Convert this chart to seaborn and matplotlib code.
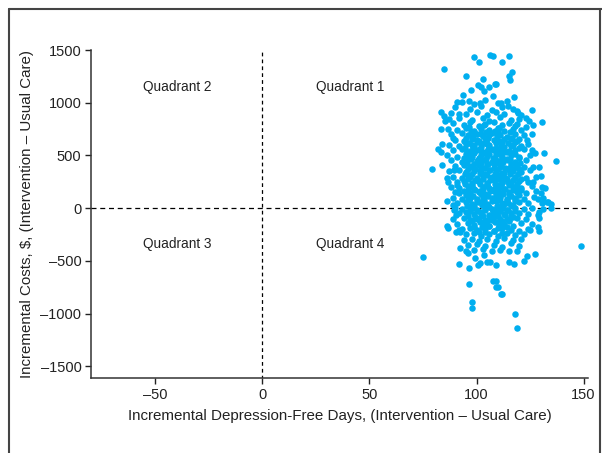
import pandas as pd
import matplotlib.pyplot as plt
import seaborn as sns
from matplotlib.lines import Line2D

# bootstrap replicates: (incremental days, incremental cost $)
outlier_pts = [
    (98.6, 1433), (101, 1385), (106.5, 1452), (107.5, 1440), (85, 1319),
    (95.3, 1253), (102.8, 1224), (100.5, 1167), (101.9, 1148), (108.4, 1177),
    (97.2, 1120), (93.5, 1072), (103.3, 1110), (106, 1148), (91, 1006),
    (96.3, 1016), (101.4, 996), (107.5, 1063), (83.6, 911), (85, 873),
    (85.5, 826), (83.6, 750), (86.9, 750), (91.6, 892), (88.8, 664),
    (115, 1442), (112, 1385), (116.4, 1290), (115, 1253), (115.4, 1215),
    (108.9, 1177), (117.3, 1053), (125.7, 930), (122.9, 854), (124.3, 826),
    (126.6, 788), (130.8, 816), (118.7, 920), (119.6, 901), (114.5, 968),
    (111.2, 996),
    (79.4, 370), (84.1, 408), (82.2, 560), (83.6, 531), (86.4, 285),
    (86.9, 247), (86.4, 66), (88.8, 28), (89.3, -19), (90.2, -66),
    (86, -171), (86.9, -190), (90.2, -228), (92.5, -228), (84.1, 607),
    (89.3, 360), (91, 218), (91.6, 142),
    (131.3, 522), (136.9, 446), (127.1, 522), (125.7, 550), (130.8, 199),
    (129.9, 142), (128.5, 85), (130.8, 47), (133.6, 57), (134.6, 38),
    (134.6, 0), (128.5, -66), (129.4, -95), (125.2, -209), (128.5, -180),
    (129, -218), (129, 389), (126.2, 389), (127.6, 294), (123.8, 645),
    (126.2, 247),
    (74.8, -465), (92, -531), (96.7, -569), (96.7, -721), (97.7, -892),
    (97.7, -949), (103.3, -446), (99.5, -474), (101.4, -522), (100.5, -541),
    (104.7, -512), (106.5, -512), (108.9, -541), (107.9, -692), (109.3, -750),
    (111.2, -816), (92.5, -380), (94.9, -408), (95.8, -427), (91.6, -209),
    (149, -361), (118.7, -408), (123.4, -455), (122, -503), (127.1, -436),
    (115, -512), (117.3, -531), (109.8, -750), (111.7, -816), (118.2, -1006),
    (118.7, -1139), (108.9, -692),
]

core_pts = [
    (93, 1010), (99, 985), (104, 1030), (110, 995), (114, 1015),
    (90, 955), (97, 940), (102, 965), (107, 930), (112, 960), (117, 945),
    (88, 905), (95, 890), (100, 915), (105, 880), (109, 910), (113, 895), (121, 885),
    (87, 845), (92, 860), (98, 835), (103, 855), (106, 830), (111, 865), (116, 840), (120, 850),
    (89, 805), (94, 790), (97, 815), (101, 780), (104, 800), (108, 820), (112, 785),
    (115, 805), (119, 795), (123, 770),
    (91, 745), (95, 760), (99, 735), (102, 755), (106, 740), (110, 765), (113, 730),
    (117, 750), (121, 740),
    (88, 700), (93, 715), (96, 690), (100, 705), (103, 680), (107, 710), (111, 695),
    (114, 675), (118, 705), (122, 690), (126, 705),
    (90, 650), (94, 640), (98, 660), (101, 635), (105, 655), (108, 645), (112, 625),
    (116, 660), (119, 640),
    (87, 600), (92, 590), (95, 610), (99, 585), (102, 605), (106, 595), (109, 615),
    (113, 580), (117, 600), (121, 590), (124, 610),
    (89, 550), (93, 560), (97, 540), (100, 555), (104, 535), (107, 565), (111, 545),
    (114, 530), (118, 550), (122, 560),
    (86, 500), (91, 490), (95, 510), (98, 485), (102, 505), (105, 495), (109, 515),
    (112, 480), (116, 500), (120, 490), (125, 505),
    (88, 455), (93, 440), (96, 465), (100, 445), (103, 460), (107, 435), (110, 450),
    (114, 470), (118, 440), (123, 455),
    (90, 400), (94, 410), (97, 390), (101, 405), (104, 385), (108, 415), (111, 395),
    (115, 380), (119, 405), (122, 395),
    (87, 350), (92, 360), (95, 340), (99, 355), (102, 335), (106, 365), (109, 345),
    (113, 330), (117, 355), (121, 345), (125, 360),
    (89, 300), (93, 290), (96, 310), (100, 285), (103, 305), (107, 295), (110, 315),
    (114, 280), (118, 300), (123, 290), (130, 305),
    (91, 250), (94, 260), (98, 240), (101, 255), (105, 235), (108, 265), (112, 245),
    (116, 230), (120, 255), (124, 245),
    (88, 200), (92, 190), (96, 210), (99, 185), (103, 205), (106, 195), (110, 215),
    (113, 180), (117, 200), (121, 190), (126, 210), (132, 195),
    (90, 150), (94, 160), (97, 140), (101, 155), (104, 135), (108, 165), (111, 145),
    (115, 130), (119, 155), (123, 145), (128, 160),
    (89, 100), (93, 90), (96, 110), (100, 85), (103, 105), (107, 95), (110, 115),
    (114, 80), (118, 100), (122, 90), (127, 105), (131, 95),
    (91, 50), (95, 60), (98, 40), (102, 55), (105, 35), (109, 65), (112, 45),
    (116, 30), (120, 55), (124, 45), (133, 60),
    (90, 0), (93, -10), (97, 10), (100, -15), (104, 5), (107, -5), (111, 15),
    (114, -20), (118, 0), (122, -10), (126, 5), (131, -5),
    (92, -50), (95, -40), (99, -60), (102, -45), (106, -65), (109, -35), (113, -55),
    (116, -70), (120, -45), (124, -55), (129, -40),
    (89, -100), (94, -90), (97, -110), (101, -95), (104, -115), (108, -85), (111, -105),
    (115, -120), (119, -95), (123, -105),
    (91, -150), (96, -140), (99, -160), (103, -145), (106, -165), (110, -135), (113, -155),
    (117, -170), (121, -145), (126, -155),
    (93, -200), (97, -190), (100, -210), (104, -195), (108, -215), (112, -185), (116, -205),
    (120, -220), (124, -195),
    (95, -250), (99, -240), (102, -260), (106, -245), (110, -265), (114, -235), (118, -255),
    (122, -245),
    (94, -300), (98, -290), (101, -310), (105, -295), (109, -315), (113, -285), (117, -305),
    (121, -295),
    (96, -350), (100, -340), (104, -360), (108, -345), (112, -365), (116, -335), (120, -355),
    (99, -400), (103, -390), (107, -410), (111, -395), (115, -405),
]

fill_pts = [
    (96.5, 770), (103.5, 785), (110.5, 765), (118, 780),
    (97.5, 730), (104.5, 720), (108.5, 735), (115.5, 725),
    (95, 670), (98.5, 685), (105.5, 665), (109.5, 680), (116.5, 670), (120, 660),
    (96.5, 620), (100, 630), (103.5, 615), (110.5, 635), (114.5, 620), (118, 625),
    (94.5, 575), (98.5, 570), (102, 580), (105.5, 565), (109, 575), (116, 585), (120, 570),
    (95.5, 525), (99, 520), (102.5, 530), (106, 515), (109.5, 525), (113, 535), (116.5, 520),
    (94, 475), (97.5, 470), (101, 480), (104.5, 465), (108.5, 475), (112, 485), (115.5, 470), (120, 475),
    (95.5, 425), (99, 420), (102, 430), (105.5, 415), (109, 425), (112.5, 435), (116, 420), (120.5, 425),
    (96, 375), (99.5, 370), (103, 380), (106.5, 365), (110, 375), (113.5, 385), (117, 370), (120, 375),
    (94.5, 325), (98, 320), (101.5, 330), (105, 315), (108.5, 325), (112, 335), (115.5, 320), (119.5, 325),
    (96, 275), (99.5, 270), (103, 280), (106.5, 265), (110, 275), (113.5, 285), (117, 270), (121, 275),
    (94.5, 225), (98, 220), (101.5, 230), (105, 215), (108.5, 225), (112, 235), (115, 220), (119, 225),
    (96, 175), (99.5, 170), (103, 180), (106.5, 165), (110, 175), (113.5, 185), (117, 170), (121, 175),
    (95, 125), (98.5, 120), (102, 130), (105.5, 115), (109, 125), (112.5, 135), (116, 120), (120, 125),
    (96.5, 75), (100, 70), (103.5, 80), (107, 65), (110.5, 75), (114, 85), (118, 70),
    (95.5, 25), (99, 20), (102.5, 30), (106, 15), (109.5, 25), (113, 35), (117, 20),
    (97, -25), (100.5, -30), (104, -20), (107.5, -35), (111, -25), (114.5, -15), (118, -30),
    (96, -75), (99.5, -80), (103, -70), (106.5, -85), (110, -75), (113.5, -65), (117, -80),
    (98, -125), (101.5, -130), (105, -120), (108.5, -135), (112, -125), (115, -115),
    (99, -175), (102.5, -180), (106, -170), (110, -185), (114, -175),
    (101, -225), (104, -230), (108, -220), (112, -235),
]

# densest part of the cloud
dense_pts = [
    (98, 600), (101.5, 560), (105, 610), (108, 550), (111.5, 590), (115, 545),
    (97, 500), (100.5, 460), (104, 520), (107.5, 480), (111, 510), (114.5, 455),
    (118, 515), (98, 400), (101.5, 360), (105, 420), (108, 380), (111.5, 410),
    (115, 360), (118.5, 395), (97, 300), (100.5, 260), (104, 320), (107.5, 280),
    (111, 300), (114.5, 250), (118, 290), (98, 200), (101.5, 160), (105, 220),
    (108, 180), (111.5, 200), (115, 150), (118.5, 190), (97, 100), (100.5, 60),
    (104, 120), (107.5, 80), (111, 100), (114.5, 50), (118, 90), (98.5, 0),
    (102, -40), (105.5, 20), (109, -20), (112.5, 0), (116, -45), (100, -100),
    (103.5, -150), (107, -110), (110.5, -160), (114, -100), (102, 700),
    (106, 690), (110, 720), (113, 660), (100, 650), (104, 670),
]

quad_labels = ["Quadrant 1", "Quadrant 2", "Quadrant 3", "Quadrant 4"]
quad_x = [41, -40, -40, 41]
quad_y = [1150, 1150, -340, -340]

x_ticks = [-50, 0, 50, 100, 150]
y_ticks = [-1500, -1000, -500, 0, 500, 1000, 1500]

pts = outlier_pts + core_pts + fill_pts + dense_pts
df = pd.DataFrame(pts, columns=["days", "cost"])

sns.set_theme(style="ticks")
plt.rcParams["font.family"] = ["Liberation Sans", "DejaVu Sans"]

fig = plt.figure(figsize=(6.02, 4.53), dpi=100)
ax = fig.add_axes([0.1515, 0.165, 0.825, 0.7245])

sns.scatterplot(
    data=df,
    x="days",
    y="cost",
    color="#00aeef",
    s=22,
    linewidth=0,
    ax=ax,
    zorder=3
)

ax.axhline(0, color="black", lw=0.9, ls=(0, (4, 3)), zorder=2)
ax.plot([0, 0], [-1620, 1500], color="black", lw=0.9, ls=(0, (3, 2.5)), zorder=2)

for lab, qx, qy in zip(quad_labels, quad_x, quad_y):
    ax.text(qx, qy, lab, ha="center", va="center", fontsize=9.8, color="#222222")

ax.set_xlim(-80, 152)
ax.set_ylim(-1614, 1500)
ax.set_xticks(x_ticks)
ax.set_xticklabels(["\u201350", "0", "50", "100", "150"])
ax.set_yticks(y_ticks)
ax.set_yticklabels([str(v).replace("-", "\u2013") for v in y_ticks])

ax.set_xlabel("Incremental Depression-Free Days, (Intervention \u2013 Usual Care)",
              fontsize=10.9, labelpad=5, color="#222222")
ax.set_ylabel("Incremental Costs, $, (Intervention \u2013 Usual Care)",
              fontsize=10.9, labelpad=5, color="#222222")
ax.tick_params(axis="both", labelsize=10.5, length=4, width=1, colors="#222222", pad=3)

sns.despine(ax=ax)
for sp in ["left", "bottom"]:
    ax.spines[sp].set_color("#333333")
    ax.spines[sp].set_linewidth(1.1)

# frame around the figure (top, left and right only, as in the source crop)
fig.add_artist(Line2D([8.5 / 602, 8.5 / 602], [0, 1 - 8.5 / 453], color="#444444", lw=1.5))
fig.add_artist(Line2D([8.5 / 602, 1], [1 - 8.5 / 453, 1 - 8.5 / 453], color="#444444", lw=1.5))
fig.add_artist(Line2D([600 / 602, 600 / 602], [0, 1 - 8.5 / 453], color="#444444", lw=1.5))

plt.savefig("out.png", dpi=100)
plt.close()
